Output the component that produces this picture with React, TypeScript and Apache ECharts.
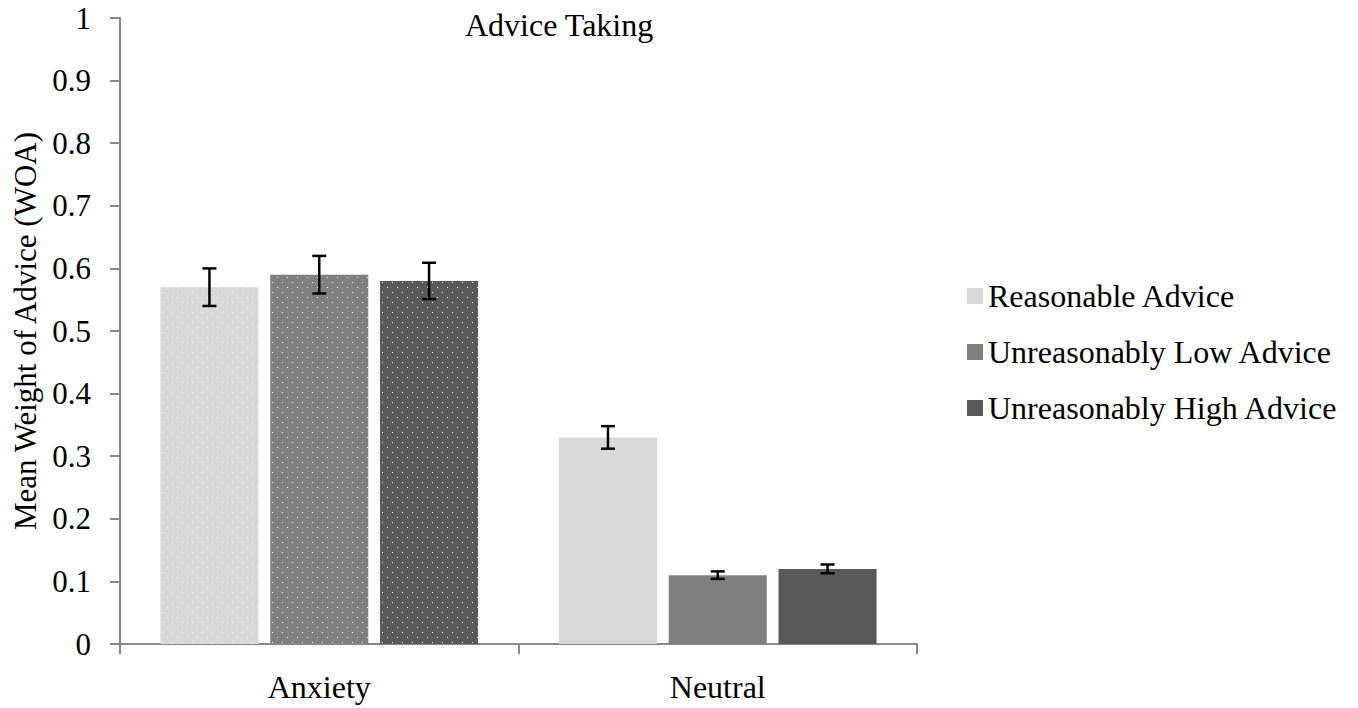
import React, { useEffect, useRef } from "react";
import * as echarts from "echarts";

const categories = ["Anxiety", "Neutral"];
const seriesNames = ["Reasonable Advice", "Unreasonably Low Advice", "Unreasonably High Advice"];
const reasonable = [0.57, 0.33];
const unreasonablyLow = [0.59, 0.11];
const unreasonablyHigh = [0.58, 0.12];
const reasonableErr = [0.03, 0.018];
const unreasonablyLowErr = [0.03, 0.006];
const unreasonablyHighErr = [0.029, 0.007];
const yTicks = [0, 0.1, 0.2, 0.3, 0.4, 0.5, 0.6, 0.7, 0.8, 0.9, 1];

const colors = ["#d9d9d9", "#808080", "#595959"];
const FONT = "Liberation Serif";
const BAR_RATIO = 0.246;
const GAP_RATIO = 0.12;

function dotPattern(base: string) {
  const c = document.createElement("canvas");
  c.width = 10;
  c.height = 10;
  const ctx = c.getContext("2d")!;
  ctx.fillStyle = base;
  ctx.fillRect(0, 0, 10, 10);
  ctx.fillStyle = "rgba(255,255,255,0.95)";
  ctx.fillRect(2, 2, 1, 1);
  ctx.fillRect(7, 7, 1, 1);
  return { image: c, repeat: "repeat" as const };
}

export default function App() {
  const ref = useRef<HTMLDivElement>(null);
  useEffect(() => {
    if (!ref.current) return;
    const chart = echarts.init(ref.current, null, { renderer: "svg" });
    const values = [reasonable, unreasonablyLow, unreasonablyHigh];
    const errs = [reasonableErr, unreasonablyLowErr, unreasonablyHighErr];

    const barSeries = values.map((vals, si) => ({
      type: "bar",
      name: seriesNames[si],
      barWidth: BAR_RATIO * 100 + "%",
      barGap: GAP_RATIO * 100 + "%",
      itemStyle: { color: colors[si] },
      data: vals.map((v, ci) =>
        ci === 0 ? { value: v, itemStyle: { color: dotPattern(colors[si]) } } : { value: v }
      ),
    }));

    const errSeries = values.map((vals, si) => ({
      type: "custom",
      name: seriesNames[si] + " error",
      data: vals.map((v, ci) => [ci, v - errs[si][ci], v + errs[si][ci]]),
      encode: { x: 0, y: [1, 2] },
      z: 10,
      renderItem: (params: any, api: any) => {
        const ci = api.value(0);
        const lo = api.coord([ci, api.value(1)]);
        const hi = api.coord([ci, api.value(2)]);
        const band = api.size([1, 0])[0];
        const bw = band * BAR_RATIO;
        const x = lo[0] + (si - 1) * bw * (1 + GAP_RATIO);
        const cap = 7;
        const style = { stroke: "#000", lineWidth: 2.5 };
        return {
          type: "group",
          children: [
            { type: "line", shape: { x1: x, y1: lo[1], x2: x, y2: hi[1] }, style },
            { type: "line", shape: { x1: x - cap, y1: lo[1], x2: x + cap, y2: lo[1] }, style },
            { type: "line", shape: { x1: x - cap, y1: hi[1], x2: x + cap, y2: hi[1] }, style },
          ],
        };
      },
    }));

    chart.setOption({
      animation: false,
      textStyle: { fontFamily: FONT },
      title: {
        text: "Advice Taking",
        left: 465,
        top: 9,
        padding: 0,
        textStyle: { fontFamily: FONT, fontSize: 32, lineHeight: 32, fontWeight: "normal", color: "#000" },
      },
      legend: {
        data: seriesNames,
        orient: "vertical",
        left: 967,
        top: 280,
        padding: 0,
        itemWidth: 16,
        itemHeight: 16,
        itemGap: 24,
        icon: "rect",
        textStyle: { fontFamily: FONT, fontSize: 32, lineHeight: 32, color: "#000" },
      },
      grid: { left: 120, right: 441, top: 18, bottom: 64, outerBoundsMode: "none", containLabel: false },
      xAxis: {
        type: "category",
        data: categories,
        axisLine: { lineStyle: { color: "#898989", width: 2 } },
        axisTick: { show: true, length: 10, lineStyle: { color: "#898989", width: 2 } },
        axisLabel: { fontFamily: FONT, fontSize: 32, color: "#000", margin: 27 },
      },
      yAxis: {
        type: "value",
        min: 0,
        max: 1,
        interval: 0.1,
        name: "Mean Weight of Advice (WOA)",
        nameLocation: "middle",
        nameGap: 76,
        nameTextStyle: { fontFamily: FONT, fontSize: 31, color: "#000" },
        axisLine: { show: true, lineStyle: { color: "#898989", width: 2 } },
        axisTick: { show: true, length: 10, lineStyle: { color: "#898989", width: 2 } },
        splitLine: { show: false },
        axisLabel: {
          fontFamily: FONT,
          fontSize: 31,
          color: "#000",
          margin: 29,
          formatter: (v: number) => {
            const t = yTicks.find((x) => Math.abs(x - v) < 1e-9);
            return String(t !== undefined ? t : v);
          },
        },
      },
      series: [...barSeries, ...errSeries],
    });
    return () => chart.dispose();
  }, []);
  return (
    <div
      ref={ref}
      style={{ position: "absolute", left: 0, top: 0, width: 1358, height: 708 }}
    />
  );
}
